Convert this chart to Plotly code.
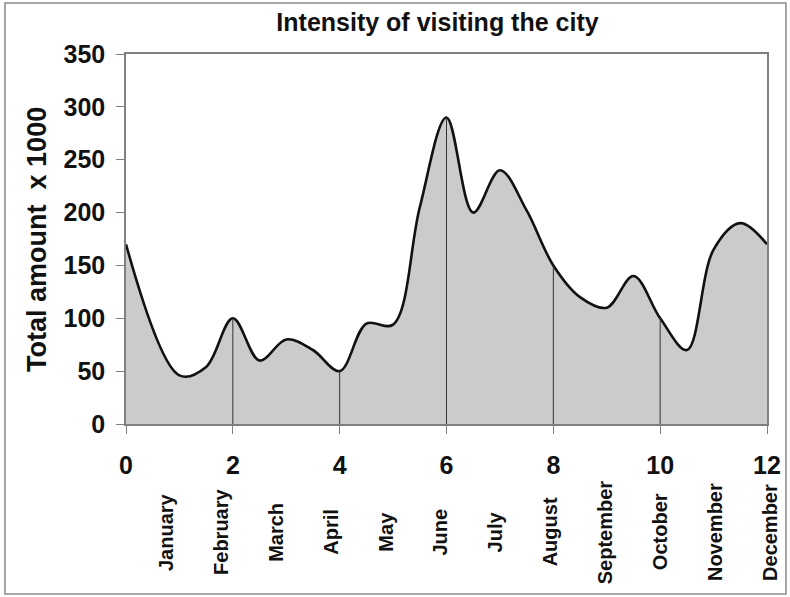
import plotly.graph_objects as go

# Visitors (thousands) sampled through the year
time_points = [0, 1, 1.5, 2, 2.5, 3, 3.5, 4, 4.5, 5, 5.5, 6,
               6.5, 7, 7.5, 8, 8.5, 9, 9.5, 10, 10.5, 11, 11.5, 12]
visitors = [170, 46, 54, 100, 60, 80, 70, 50, 95, 94, 205, 290,
            200, 240, 202, 150, 120, 110, 140, 100, 70, 165, 190, 170]

x_ticks = [0, 2, 4, 6, 8, 10, 12]
y_ticks = [0, 50, 100, 150, 200, 250, 300, 350]
months = ["January", "February", "March", "April", "May", "June", "July",
          "August", "September", "October", "November", "December"]

FONT = "Liberation Sans, Arial, sans-serif"

# Drop lines from the axis up to the curve at every even tick
drop_x, drop_y = [], []
for t in x_ticks[1:-1]:
    v = visitors[time_points.index(t)]
    drop_x += [t, t, None]
    drop_y += [0, v, None]

fig = go.Figure()
fig.add_trace(go.Scatter(
    x=time_points, y=visitors, mode="lines",
    line=dict(color="#111111", width=2.6, shape="spline", smoothing=1.0),
    fill="tozeroy", fillcolor="#cbcbcb", hoverinfo="x+y",
))
fig.add_trace(go.Scatter(
    x=drop_x, y=drop_y, mode="lines",
    line=dict(color="#333333", width=1), hoverinfo="skip",
))

# Month names under the numeric axis (evenly spread category labels)
first_px, step_px, plot_w = 40.0, 54.9, 641.0
annotations = [
    dict(x=(first_px + i * step_px) / plot_w, y=-0.292, xref="paper", yref="paper",
         text=m, textangle=-90, showarrow=False, xanchor="center", yanchor="middle",
         font=dict(family=FONT, size=20, color="#111111", weight="bold"))
    for i, m in enumerate(months)
]
annotations.append(dict(
    x=-0.139, y=0.50, xref="paper", yref="paper", text="Total amount  x 1000",
    textangle=-90, showarrow=False, xanchor="center", yanchor="middle",
    font=dict(family=FONT, size=27, color="#111111", weight="bold"),
))

fig.update_layout(
    width=790, height=597,
    margin=dict(l=126, r=23, t=54, b=173),
    paper_bgcolor="white", plot_bgcolor="white",
    showlegend=False,
    title=dict(text="Intensity of visiting the city", x=437.5 / 790, xanchor="center",
               y=1 - 22 / 597, yanchor="middle", yref="container",
               font=dict(family=FONT, size=25, color="#111111", weight="bold")),
    annotations=annotations,
    shapes=[dict(type="rect", xref="paper", yref="paper",
                 x0=-0.1888, x1=1.0296, y0=-0.4595, y1=1.1378,
                 line=dict(color="#8a8a8a", width=1.5), fillcolor="rgba(0,0,0,0)",
                 layer="below")],
)
fig.update_xaxes(
    range=[0, 12], tickvals=x_ticks, ticks="outside", ticklen=8, tickcolor="#808080",
    showline=True, linecolor="#808080", linewidth=1.5, mirror=True,
    showgrid=False, zeroline=False, ticklabelstandoff=10, automargin=False,
    tickfont=dict(family=FONT, size=25, color="#111111", weight="bold"),
)
fig.update_yaxes(
    range=[0, 350], tickvals=y_ticks, ticks="outside", ticklen=8, tickcolor="#808080",
    showline=True, linecolor="#808080", linewidth=1.5, mirror=True,
    showgrid=False, zeroline=False, ticklabelstandoff=6, automargin=False,
    tickfont=dict(family=FONT, size=25, color="#111111", weight="bold"),
)

fig.write_html("out.html")
